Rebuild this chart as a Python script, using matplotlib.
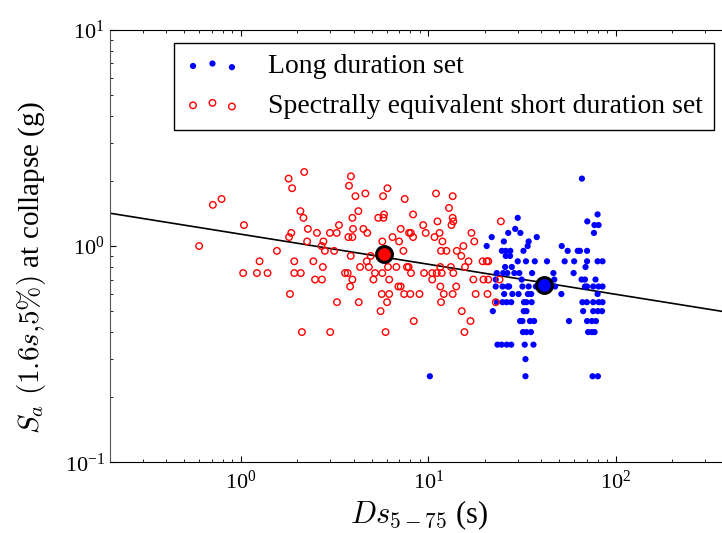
import matplotlib
matplotlib.use('Agg')
import matplotlib.pyplot as plt
import numpy as np
from matplotlib.ticker import FuncFormatter, NullFormatter

plt.rcParams['font.family'] = ['Liberation Serif', 'DejaVu Serif']
plt.rcParams['mathtext.fontset'] = 'cm'
plt.rcParams['axes.unicode_minus'] = False

# short duration set (spectrally equivalent): Ds5-75 [s], Sa [g]
short_ds = [0.60, 0.71, 0.79, 1.04, 1.03, 1.22, 1.39, 1.26, 1.56, 1.83, 1.80, 1.88, 2.18, 2.08, 2.16,
            1.86, 1.81, 2.26, 1.93, 1.93, 2.09, 2.12, 2.28, 2.55, 2.44, 2.49, 2.71, 2.74, 2.76, 2.70,
            2.81, 3.15, 2.99, 3.25, 3.34, 3.0, 3.26,
            3.87, 3.78, 4.09, 4.62, 5.74, 6.06, 7.49, 11.0, 13.5, 12.9, 13.5, 13.6, 13.3, 11.2, 8.3,
            9.4, 9.69, 11.5, 10.8, 11.9, 17.0, 17.6, 15.4, 14.2, 15.0, 16.4, 17.4, 17.9, 15.1, 16.8,
            15.6, 11.7, 12.5, 11.6, 13.2, 15.7, 14.1, 13.6, 13.5, 11.6, 12.1, 11.7, 9.5, 10.5, 11.1,
            11.8, 10.5, 8.98, 8.03, 7.44, 8.37, 6.93, 7.13, 6.76, 7.7, 7.86, 8.09, 7.37, 8.07, 7.9,
            7.13, 6.45, 6.99, 8.3, 5.41, 5.77, 5.81, 3.94, 4.24, 4.51, 4.73, 3.97, 3.75, 3.94, 5.69,
            3.86, 4.70, 4.93, 4.33, 4.82, 5.2, 5.1, 5.69, 6.19, 6.1, 3.6, 3.72, 3.94, 3.83, 4.26,
            5.65, 6.19, 6.03, 5.57, 5.92,
            24.4, 19.5, 20.5, 20.9, 19.7, 20.9, 24.0, 20.7, 22.9]
short_sa = [1.0, 1.55, 1.65, 1.25, 0.75, 0.75, 0.75, 0.85, 0.95, 0.6, 2.05, 1.85, 2.2, 1.45, 1.35,
            1.15, 1.1, 1.05, 0.85, 0.75, 0.75, 0.4, 1.2, 1.15, 0.85, 0.7, 0.7, 0.8, 1.05, 1.0,
            0.95, 0.95, 1.15, 1.15, 1.25, 0.4, 0.55,
            2.1, 1.9, 1.7, 1.75, 1.7, 1.85, 1.65, 1.75, 1.7, 1.5, 1.35, 1.3, 1.25, 1.3, 1.4,
            1.25, 1.15, 1.15, 1.1, 1.05, 1.15, 1.05, 1.0, 0.95, 0.9, 0.85, 0.7, 0.6, 0.5, 0.45,
            0.4, 0.95, 0.95, 0.8, 0.8, 0.8, 0.65, 0.75, 0.6, 0.65, 0.6, 0.55, 0.75, 0.75, 0.75,
            0.75, 0.7, 0.6, 0.6, 0.6, 0.45, 0.65, 0.65, 0.8, 0.8, 0.8, 0.75, 0.95, 1.15, 1.15,
            1.2, 1.1, 1.05, 1.1, 1.35, 1.35, 1.4, 1.35, 1.45, 1.2, 1.15, 1.2, 1.1, 1.1, 1.05,
            0.9, 0.85, 0.9, 0.8, 0.8, 0.75, 0.7, 0.75, 0.7, 0.8, 0.75, 0.75, 0.7, 0.65, 0.55,
            0.6, 0.6, 0.55, 0.5, 0.4,
            1.3, 0.85, 0.85, 0.85, 0.7, 0.7, 0.7, 0.6, 0.55]

# long duration set
long_ds = [66, 80, 30, 70.5, 77, 81, 26.7, 29.1, 31, 76.5, 21.8, 37.9, 34.3, 25.3, 33.9, 20.5, 51.5,
           24.7, 25.9, 27.4, 32.2, 55.4, 62.7, 64.4, 70.3, 25.9, 27.3,
           30, 33.2, 37, 43, 53.4, 60, 70.3, 80, 85, 69, 25.7, 27.9,
           25.1, 26.4, 28.8, 30.6, 23.2, 35.8, 46.5, 59.6,
           31.5, 22.9, 47, 65.7, 68.5, 78,
           22.9, 24.9, 26.5, 27.0, 31.8, 34.3, 37.5, 47.5, 68.5, 70.3, 75.8, 80.9, 85,
           25.4, 28.1, 30.3, 34, 35.4, 51.3, 80,
           23.2, 24.9, 26.2, 27.7, 32.4, 33.4, 35.6, 66.4, 70.1, 75.8, 81.1, 85,
           22.1, 32.3, 33.4, 67, 75.8, 80.3, 84.5,
           30.9, 31.8, 34.9, 36.7, 56.3, 70.3, 74.5, 78.4,
           32, 33.4, 35.3, 71.2, 74.5, 77.1,
           23.4, 24.6, 26.2, 27.7, 32.7, 36.4,
           33, 33, 75.2, 80.3, 10.2]
long_sa = [2.05, 1.4, 1.35, 1.3, 1.25, 1.25, 1.15, 1.2, 1.15, 1.15, 1.1, 1.1, 1.05, 1.05, 1.0, 1.0, 1.0,
           0.95, 0.95, 0.95, 0.95, 0.95, 0.95, 0.95, 0.95, 0.9, 0.9,
           0.85, 0.85, 0.85, 0.85, 0.85, 0.85, 0.85, 0.85, 0.85, 0.8, 0.8, 0.8,
           0.75, 0.75, 0.75, 0.75, 0.75, 0.75, 0.75, 0.75,
           0.7, 0.7, 0.7, 0.7, 0.7, 0.7,
           0.65, 0.65, 0.65, 0.65, 0.65, 0.65, 0.65, 0.65, 0.65, 0.65, 0.65, 0.65, 0.65,
           0.6, 0.6, 0.6, 0.6, 0.6, 0.6, 0.6,
           0.55, 0.55, 0.55, 0.55, 0.55, 0.55, 0.55, 0.55, 0.55, 0.55, 0.55, 0.55,
           0.5, 0.5, 0.5, 0.5, 0.5, 0.5, 0.5,
           0.45, 0.45, 0.45, 0.45, 0.45, 0.45, 0.45, 0.45,
           0.4, 0.4, 0.4, 0.4, 0.4, 0.4,
           0.35, 0.35, 0.35, 0.35, 0.35, 0.35,
           0.3, 0.25, 0.25, 0.25, 0.25]

# geometric means of each set
short_mean = (5.81, 0.915)
long_mean = (41.6, 0.66)

# fitted line: log10(Sa) = a + b*log10(Ds)
fit_a = 0.0548
fit_b = -0.139

fig = plt.figure(figsize=(7.22, 5.33), dpi=100)
ax = fig.add_axes([0.1519, 0.1326, 0.8573, 0.8116])

ax.scatter(long_ds, long_sa, s=20, c='#0000ff', edgecolors='none', label='Long duration set', zorder=3)
ax.scatter(short_ds, short_sa, s=22, facecolors='none', edgecolors='#ff0000', linewidths=1.0,
           label='Spectrally equivalent short duration set', zorder=3)

xl = np.array([0.2, 400])
ax.plot(xl, 10 ** fit_a * xl ** fit_b, color='k', lw=1.2, zorder=2)

ax.scatter([short_mean[0]], [short_mean[1]], s=130, c='#ff0000', edgecolors='k', linewidths=2.2, zorder=4)
ax.scatter([long_mean[0]], [long_mean[1]], s=130, c='#0000ff', edgecolors='k', linewidths=2.2, zorder=4)

ax.set_xscale('log')
ax.set_yscale('log')
ax.set_xlim(0.2, 400)
ax.set_ylim(0.1, 10)

fmt = FuncFormatter(lambda v, p: r'$\mathregular{10^{%d}}$' % int(round(np.log10(v))))
ax.xaxis.set_major_formatter(fmt)
ax.yaxis.set_major_formatter(fmt)
ax.xaxis.set_minor_formatter(NullFormatter())
ax.yaxis.set_minor_formatter(NullFormatter())
ax.tick_params(which='both', direction='in', top=True, right=True, labelsize=16)
ax.tick_params(which='major', length=4, width=0.8)
ax.tick_params(which='minor', length=2.5, width=0.6)
ax.tick_params(axis='x', pad=6)
ax.spines['left'].set_color('#555555')

ax.set_xlabel(r'$Ds_{5-75}$ (s)', fontsize=22, labelpad=3)
ax.set_ylabel(r'$S_a\ (1.6s{,}5\%)$ at collapse (g)', fontsize=21)
ax.yaxis.set_label_coords(-0.10, 0.45)

leg = ax.legend(loc='upper right', bbox_to_anchor=(714 / 722, 1 - 42.7 / 533),
                bbox_transform=fig.transFigure, borderaxespad=0, scatterpoints=3,
                fontsize=20, fancybox=False, edgecolor='k', framealpha=1, handletextpad=1.0)
leg.get_frame().set_linewidth(1.0)

plt.savefig('out.png', dpi=100)
